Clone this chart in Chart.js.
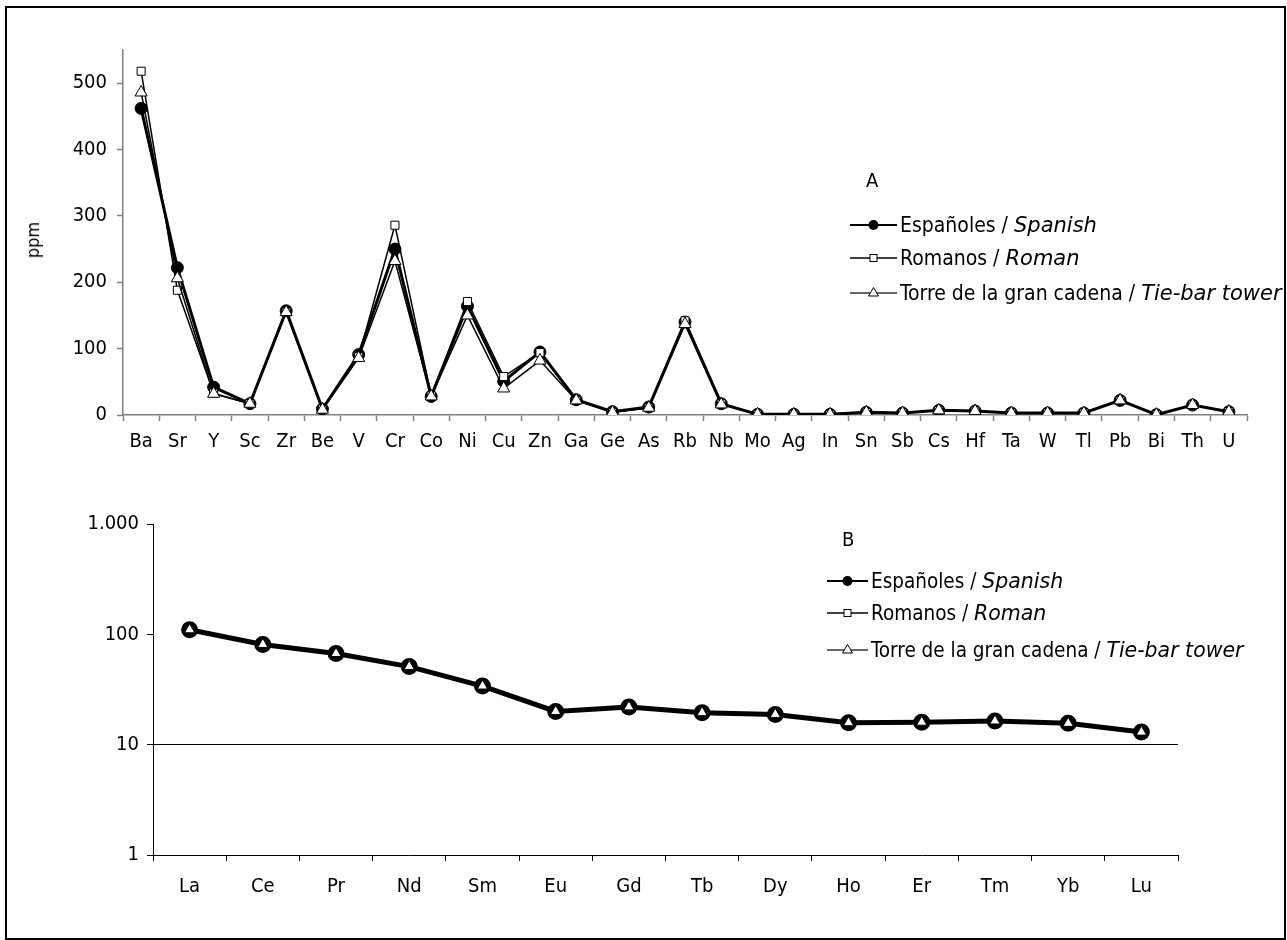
<!DOCTYPE html>
<html>
<head>
<meta charset="utf-8">
<script src="https://cdn.jsdelivr.net/npm/chart.js@4.4.0/dist/chart.umd.min.js"></script>
<style>
  body { margin: 0; background: #fff; }
  #page { position: relative; width: 1287px; height: 940px; overflow: hidden;
          font-family: "DejaVu Sans Condensed", "DejaVu Sans", sans-serif; font-stretch: condensed; color: #000; }
  #frame { position: absolute; left: 5px; top: 6px; width: 1281px; height: 934px; border: 2px solid #000; box-sizing: border-box; }
  canvas { position: absolute; left: 0; }
  .lbl { position: absolute; font-size: 20px; line-height: 24px; white-space: nowrap; }
  .row { position: absolute; height: 24px; display: flex; align-items: center; white-space: nowrap; }
  .row svg { margin-right: 3px; }
  .row i { font-family: "DejaVu Sans", sans-serif; font-style: oblique; font-stretch: normal; }
</style>
</head>
<body>
<div id="page">
  <div id="frame"></div>
  <canvas id="chartA" width="1287" height="470" style="top:0"></canvas>
  <canvas id="chartB" width="1287" height="470" style="top:470px"></canvas>
  <div id="overlay"></div>
</div>
<script>
// trace elements, ppm (panel A)
const elements = ['Ba','Sr','Y','Sc','Zr','Be','V','Cr','Co','Ni','Cu','Zn','Ga','Ge','As','Rb','Nb','Mo','Ag','In','Sn','Sb','Cs','Hf','Ta','W','Tl','Pb','Bi','Th','U'];
const spanishA = [462, 222, 42, 17, 157, 9, 91, 250, 28, 164, 51, 95, 23, 5, 12, 140, 17, 1, 1, 1, 4, 3, 7, 6, 3, 3, 3, 22, 0.5, 15, 5];
const romanA   = [518, 188, 33, 17, 155, 9, 88, 286, 29, 171, 58, 94, 22, 4, 11, 142, 17, 1, 1, 1, 4, 3, 7, 6, 3, 3, 3, 22, 0.5, 15, 5];
const tieBarA  = [486, 206, 32, 17, 155, 8, 86, 232, 28, 150, 40, 82, 22, 4, 11, 137, 16, 1, 1, 1, 4, 3, 7, 6, 3, 3, 3, 22, 0.5, 15, 5];
const ticksA = [0, 100, 200, 300, 400, 500];

// rare earths, log scale (panel B)
const rareEarths = ['La','Ce','Pr','Nd','Sm','Eu','Gd','Tb','Dy','Ho','Er','Tm','Yb','Lu'];
const spanishB = [110, 81, 67, 51, 34, 20, 22, 19.5, 18.8, 15.8, 16, 16.4, 15.6, 13];
const romanB   = [110, 81, 67, 51, 34, 20, 22, 19.5, 18.8, 15.8, 16, 16.4, 15.6, 13];
const tieBarB  = [110, 81, 67, 51, 34, 20, 22, 19.5, 18.8, 15.8, 16, 16.4, 15.6, 13];
const ticksB = [1, 10, 100, 1000];

const seriesNames = ['Españoles', 'Romanos', 'Torre de la gran cadena'];
const seriesNamesEn = ['Spanish', 'Roman', 'Tie-bar tower'];

const FONT = '"DejaVu Sans Condensed", "DejaVu Sans", sans-serif';
const tickFont = { family: FONT, size: 20 };

new Chart(document.getElementById('chartA'), {
  type: 'line',
  data: {
    labels: elements,
    datasets: [
      { label: seriesNames[0], data: spanishA, borderColor: '#000', borderWidth: 3,
        pointStyle: 'circle', pointRadius: 6, pointBackgroundColor: '#000', pointBorderColor: '#000', pointBorderWidth: 1, order: 3 },
      { label: seriesNames[1], data: romanA, borderColor: '#000', borderWidth: 1.5,
        pointStyle: 'rect', pointRadius: 5.7, pointBackgroundColor: '#fff', pointBorderColor: '#000', pointBorderWidth: 1, order: 2 },
      { label: seriesNames[2], data: tieBarA, borderColor: '#000', borderWidth: 1.5,
        pointStyle: 'triangle', pointRadius: 7, pointBackgroundColor: '#fff', pointBorderColor: '#000', pointBorderWidth: 1, order: 1 }
    ]
  },
  options: {
    responsive: false, animation: false, devicePixelRatio: 1,
    layout: { padding: { left: 0, right: 40, top: 50, bottom: 0 } },
    plugins: { legend: { display: false }, tooltip: { enabled: false } },
    scales: {
      x: {
        offset: true,
        grid: { offset: true, drawOnChartArea: false, tickLength: 6, tickColor: '#808080', tickWidth: 1.5 },
        border: { display: true, color: '#808080', width: 1.5 },
        ticks: { color: '#000', font: tickFont, padding: 9, maxRotation: 0, autoSkip: false },
        afterFit: s => { s.height = 55; }
      },
      y: {
        min: 0, max: 550,
        grid: { drawOnChartArea: false, tickLength: 6, tickColor: '#808080', tickWidth: 1.5 },
        border: { display: true, color: '#808080', width: 1.5 },
        ticks: { color: '#000', font: tickFont, padding: 10 },
        afterBuildTicks: s => { s.ticks = ticksA.map(v => ({ value: v })); },
        afterFit: s => { s.width = 123; }
      }
    }
  }
});

new Chart(document.getElementById('chartB'), {
  type: 'line',
  data: {
    labels: rareEarths,
    datasets: [
      { label: seriesNames[0], data: spanishB, borderColor: '#000', borderWidth: 5,
        pointStyle: 'circle', pointRadius: 7.5, pointBackgroundColor: '#000', pointBorderColor: '#000', pointBorderWidth: 2, order: 3 },
      { label: seriesNames[1], data: romanB, borderColor: '#000', borderWidth: 2,
        pointStyle: 'rect', pointRadius: 4, pointBackgroundColor: '#fff', pointBorderColor: '#000', pointBorderWidth: 1, order: 2 },
      { label: seriesNames[2], data: tieBarB, borderColor: '#000', borderWidth: 2,
        pointStyle: 'triangle', pointRadius: 6, pointBackgroundColor: '#fff', pointBorderColor: '#000', pointBorderWidth: 1, order: 1 }
    ]
  },
  options: {
    responsive: false, animation: false, devicePixelRatio: 1,
    layout: { padding: { left: 0, right: 109, top: 54, bottom: 0 } },
    plugins: { legend: { display: false }, tooltip: { enabled: false } },
    scales: {
      x: {
        offset: true,
        grid: { offset: true, drawOnChartArea: false, tickLength: 6, tickColor: '#000', tickWidth: 1 },
        border: { display: true, color: '#000', width: 1 },
        ticks: { color: '#000', font: tickFont, padding: 14, maxRotation: 0, autoSkip: false },
        afterFit: s => { s.height = 85; }
      },
      y: {
        type: 'logarithmic', min: 1, max: 1000,
        grid: {
          color: ctx => (ctx.tick && ctx.tick.value === 10) ? '#000' : 'rgba(0,0,0,0)',
          lineWidth: 1, tickLength: 6, tickColor: '#000', tickWidth: 1
        },
        border: { display: true, color: '#000', width: 1 },
        ticks: { color: '#000', font: tickFont, padding: 8,
                 callback: v => v === 1000 ? '1.000' : String(v) },
        afterBuildTicks: s => { s.ticks = ticksB.map(v => ({ value: v })); },
        afterFit: s => { s.width = 153; }
      }
    }
  }
});

// legends and panel labels as html text
function icon(kind, w) {
  const c = w / 2;
  let mark = '';
  if (kind === 0) mark = `<circle cx="${c}" cy="10" r="5" fill="#000"/>`;
  if (kind === 1) mark = `<rect x="${c - 3.5}" y="6.5" width="7" height="7" fill="#fff" stroke="#000" stroke-width="1"/>`;
  if (kind === 2) mark = `<polygon points="${c},4.5 ${c + 5},13 ${c - 5},13" fill="#fff" stroke="#000" stroke-width="1"/>`;
  const lw = kind === 0 ? 2.2 : 1.5;
  const col = kind === 2 ? '#333' : '#000';
  return `<svg width="${w}" height="20"><line x1="0" y1="10" x2="${w}" y2="10" stroke="${col}" stroke-width="${lw}"/>${mark}</svg>`;
}

const overlay = document.getElementById('overlay');
function addLegend(x, rowsY, w, size, title, tx, ty) {
  overlay.insertAdjacentHTML('beforeend', `<div class="lbl" style="left:${tx}px;top:${ty - 12}px">${title}</div>`);
  rowsY.forEach((y, i) => {
    overlay.insertAdjacentHTML('beforeend',
      `<div class="row" style="left:${x}px;top:${y - 12}px;font-size:${size}px">${icon(i, w)}<span>${seriesNames[i]} / <i>${seriesNamesEn[i]}</i></span></div>`);
  });
}
addLegend(850, [225, 258, 293], 47, 21, 'A', 866, 180);
addLegend(827, [581, 613, 650], 41, 20.5, 'B', 842, 539);

overlay.insertAdjacentHTML('beforeend',
  `<div class="lbl" style="left:33px;top:240px;font-size:18px;transform:translate(-50%,-50%) rotate(-90deg)">ppm</div>`);
</script>
</body>
</html>
